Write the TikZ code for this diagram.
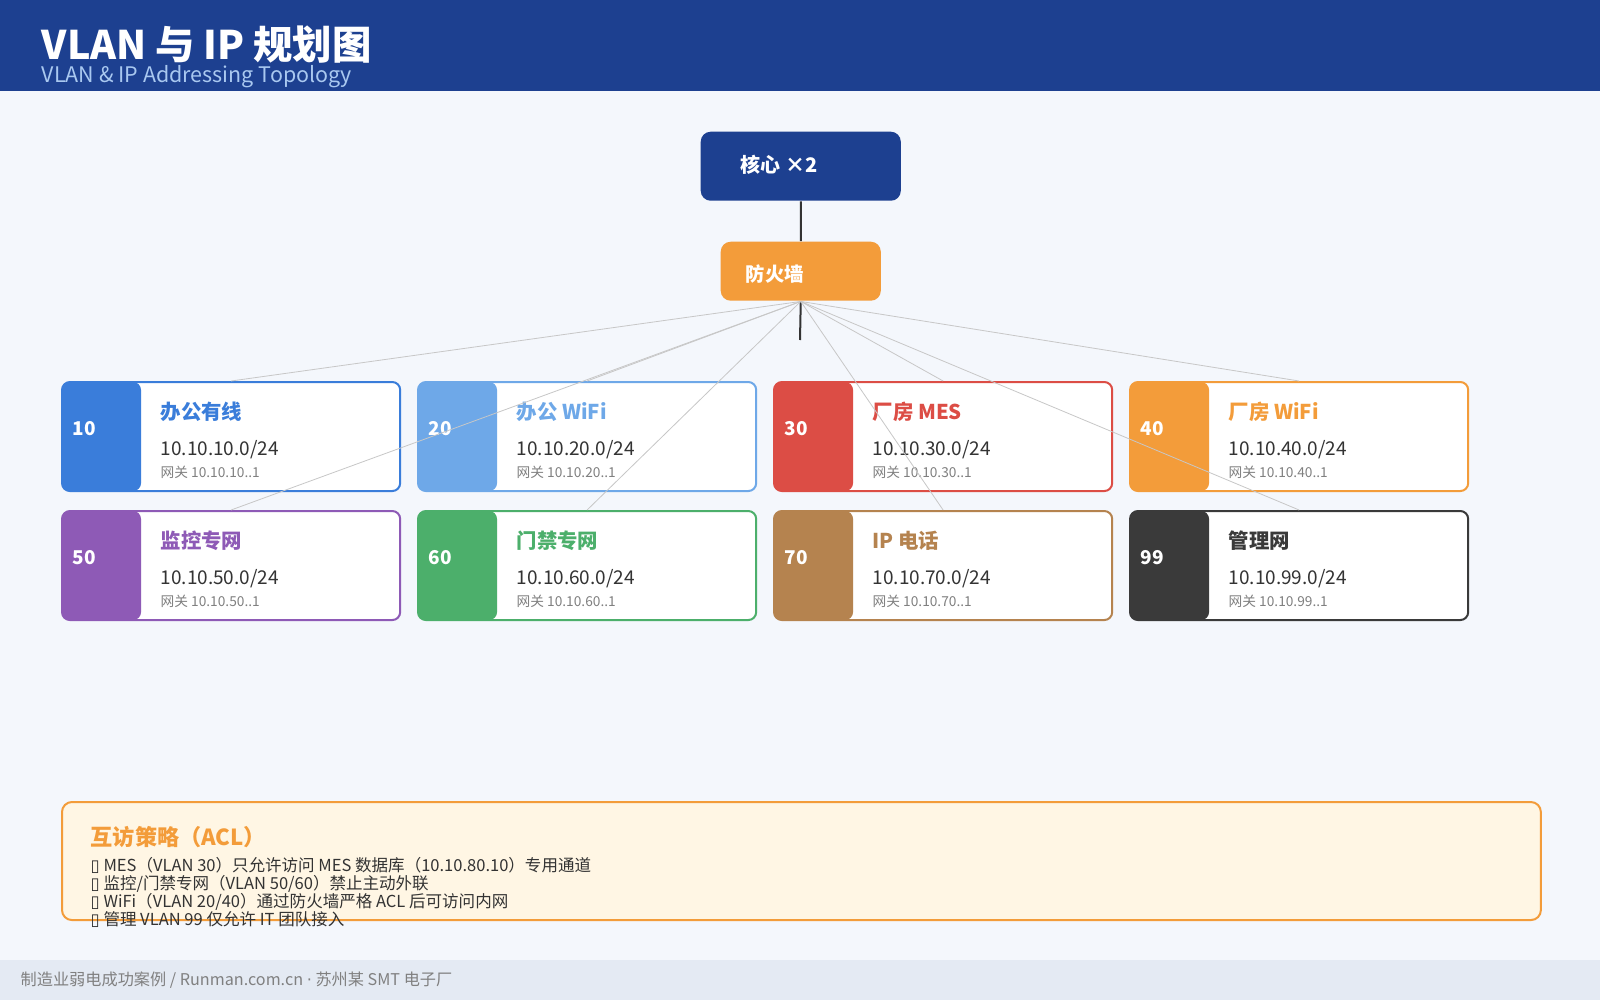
\documentclass[tikz,border=0pt]{standalone}
\usepackage{fontspec}
\setmainfont{Noto Sans CJK SC}
\newfontfamily\symfont{DejaVu Sans}
\usetikzlibrary{positioning}
\definecolor{navy}{HTML}{1D4090}
\definecolor{bg}{HTML}{F4F7FC}
\definecolor{foot}{HTML}{E4EAF3}
\definecolor{sub}{HTML}{A9C8F0}
\definecolor{orng}{HTML}{F39C3A}
\definecolor{cream}{HTML}{FFF6E4}
\definecolor{cA}{HTML}{3A7DDA}
\definecolor{cB}{HTML}{6EA8E8}
\definecolor{cC}{HTML}{DC4D45}
\definecolor{cD}{HTML}{F39C3A}
\definecolor{cE}{HTML}{8E5AB6}
\definecolor{cF}{HTML}{4CAF6B}
\definecolor{cG}{HTML}{B5834F}
\definecolor{cH}{HTML}{3A3A3A}
\definecolor{ink}{HTML}{333333}
\newcommand{\fs}[1]{\fontsize{#1}{#1}\selectfont}
\begin{document}
\begin{tikzpicture}[x=0.01cm,y=-0.01cm,
  card/.style={draw=#1, fill=white, line width=0.02cm, rounded corners=0.08cm,
    minimum width=3.38cm, minimum height=1.09cm, inner sep=0pt, anchor=north west,
    path picture={\fill[#1] (path picture bounding box.north west) rectangle ([xshift=0.79cm]path picture bounding box.south west);}},
  box/.style={rounded corners=0.1cm, inner sep=0pt, anchor=north west},
  lbl/.style={anchor=west, inner sep=0pt},
  line/.style={anchor=base west, inner sep=0pt},
  link/.style={draw=black!22, line width=0.008cm},
  trunk/.style={draw=ink, line width=0.02cm}]
\useasboundingbox (0,0) rectangle (1600,1000);
\fill[bg] (0,0) rectangle (1600,1000);
% header
\fill[navy] (0,0) rectangle (1600,91);
\node[line, white, font=\fs{11.2}\bfseries] (title) at (41,60) {VLAN 与 IP 规划图};
\node[line, sub, font=\fs{6.1}] (subtitle) at (41,82) {VLAN \& IP Addressing Topology};
% core and firewall
\node[box, fill=navy, minimum width=2cm, minimum height=0.69cm] (core) at (700,131) {};
\node[lbl, white, font=\fs{5.7}\bfseries] at (740,165) {核心 ×2};
\node[box, fill=orng, minimum width=1.6cm, minimum height=0.59cm] (fw) at (720,241) {};
\node[lbl, white, font=\fs{5.5}\bfseries] at (745,274) {防火墙};
\coordinate (hub) at (800,340);
\draw[trunk] (core.south) -- (fw.north);
\draw[trunk] (fw.south) -- (hub);
% vlan cards
\foreach \v/\name/\col/\x/\y in {10/办公有线/cA/61/381, 20/办公 WiFi/cB/417/381,
    30/厂房 MES/cC/773/381, 40/厂房 WiFi/cD/1129/381, 50/监控专网/cE/61/510,
    60/门禁专网/cF/417/510, 70/IP 电话/cG/773/510, 99/管理网/cH/1129/510}{
  \node[card=\col] (c\v) at (\x,\y) {};
  \node[lbl, white, font=\fs{5.4}\bfseries] (n\v) at (\x+11,\y+48) {\v};
  \node[lbl, \col, font=\fs{5.8}\bfseries] (t\v) at (\x+99,\y+31) {\name};
  \node[lbl, ink, font=\fs{5.4}] (s\v) at (\x+99,\y+69) {10.10.\v.0/24};
  \node[lbl, black!50, font=\fs{3.9}] (g\v) at (\x+99,\y+91) {网关 10.10.\v..1};
}
\foreach \v in {10,20,30,40,50,60,70,99}
  \draw[link] (fw.south) -- (c\v.north);
% acl
\node[box, draw=orng, fill=cream, line width=0.02cm, minimum width=14.78cm, minimum height=1.18cm] (acl) at (61,801) {};
\node[lbl, orng, font=\fs{6.3}\bfseries] (aclt) at (90,837) {互访策略（ACL）};
\foreach \txt [count=\i] in {%
    {MES（VLAN 30）只允许访问 MES 数据库（10.10.80.10）专用通道},
    {监控/门禁专网（VLAN 50/60）禁止主动外联},
    {WiFi（VLAN 20/40）通过防火墙严格 ACL 后可访问内网},
    {管理 VLAN 99 仅允许 IT 团队接入}}
  \node[line, ink, font=\fs{4.7}] (acl\i) at (90,853+18*\i) {{\symfont ▯} \txt};
% footer
\fill[foot] (0,960) rectangle (1600,1000);
\node[lbl, black!50, font=\fs{4.6}] (ft) at (20,980) {制造业弱电成功案例 / Runman.com.cn {\symfont ·} 苏州某 SMT 电子厂};
\end{tikzpicture}
\end{document}
